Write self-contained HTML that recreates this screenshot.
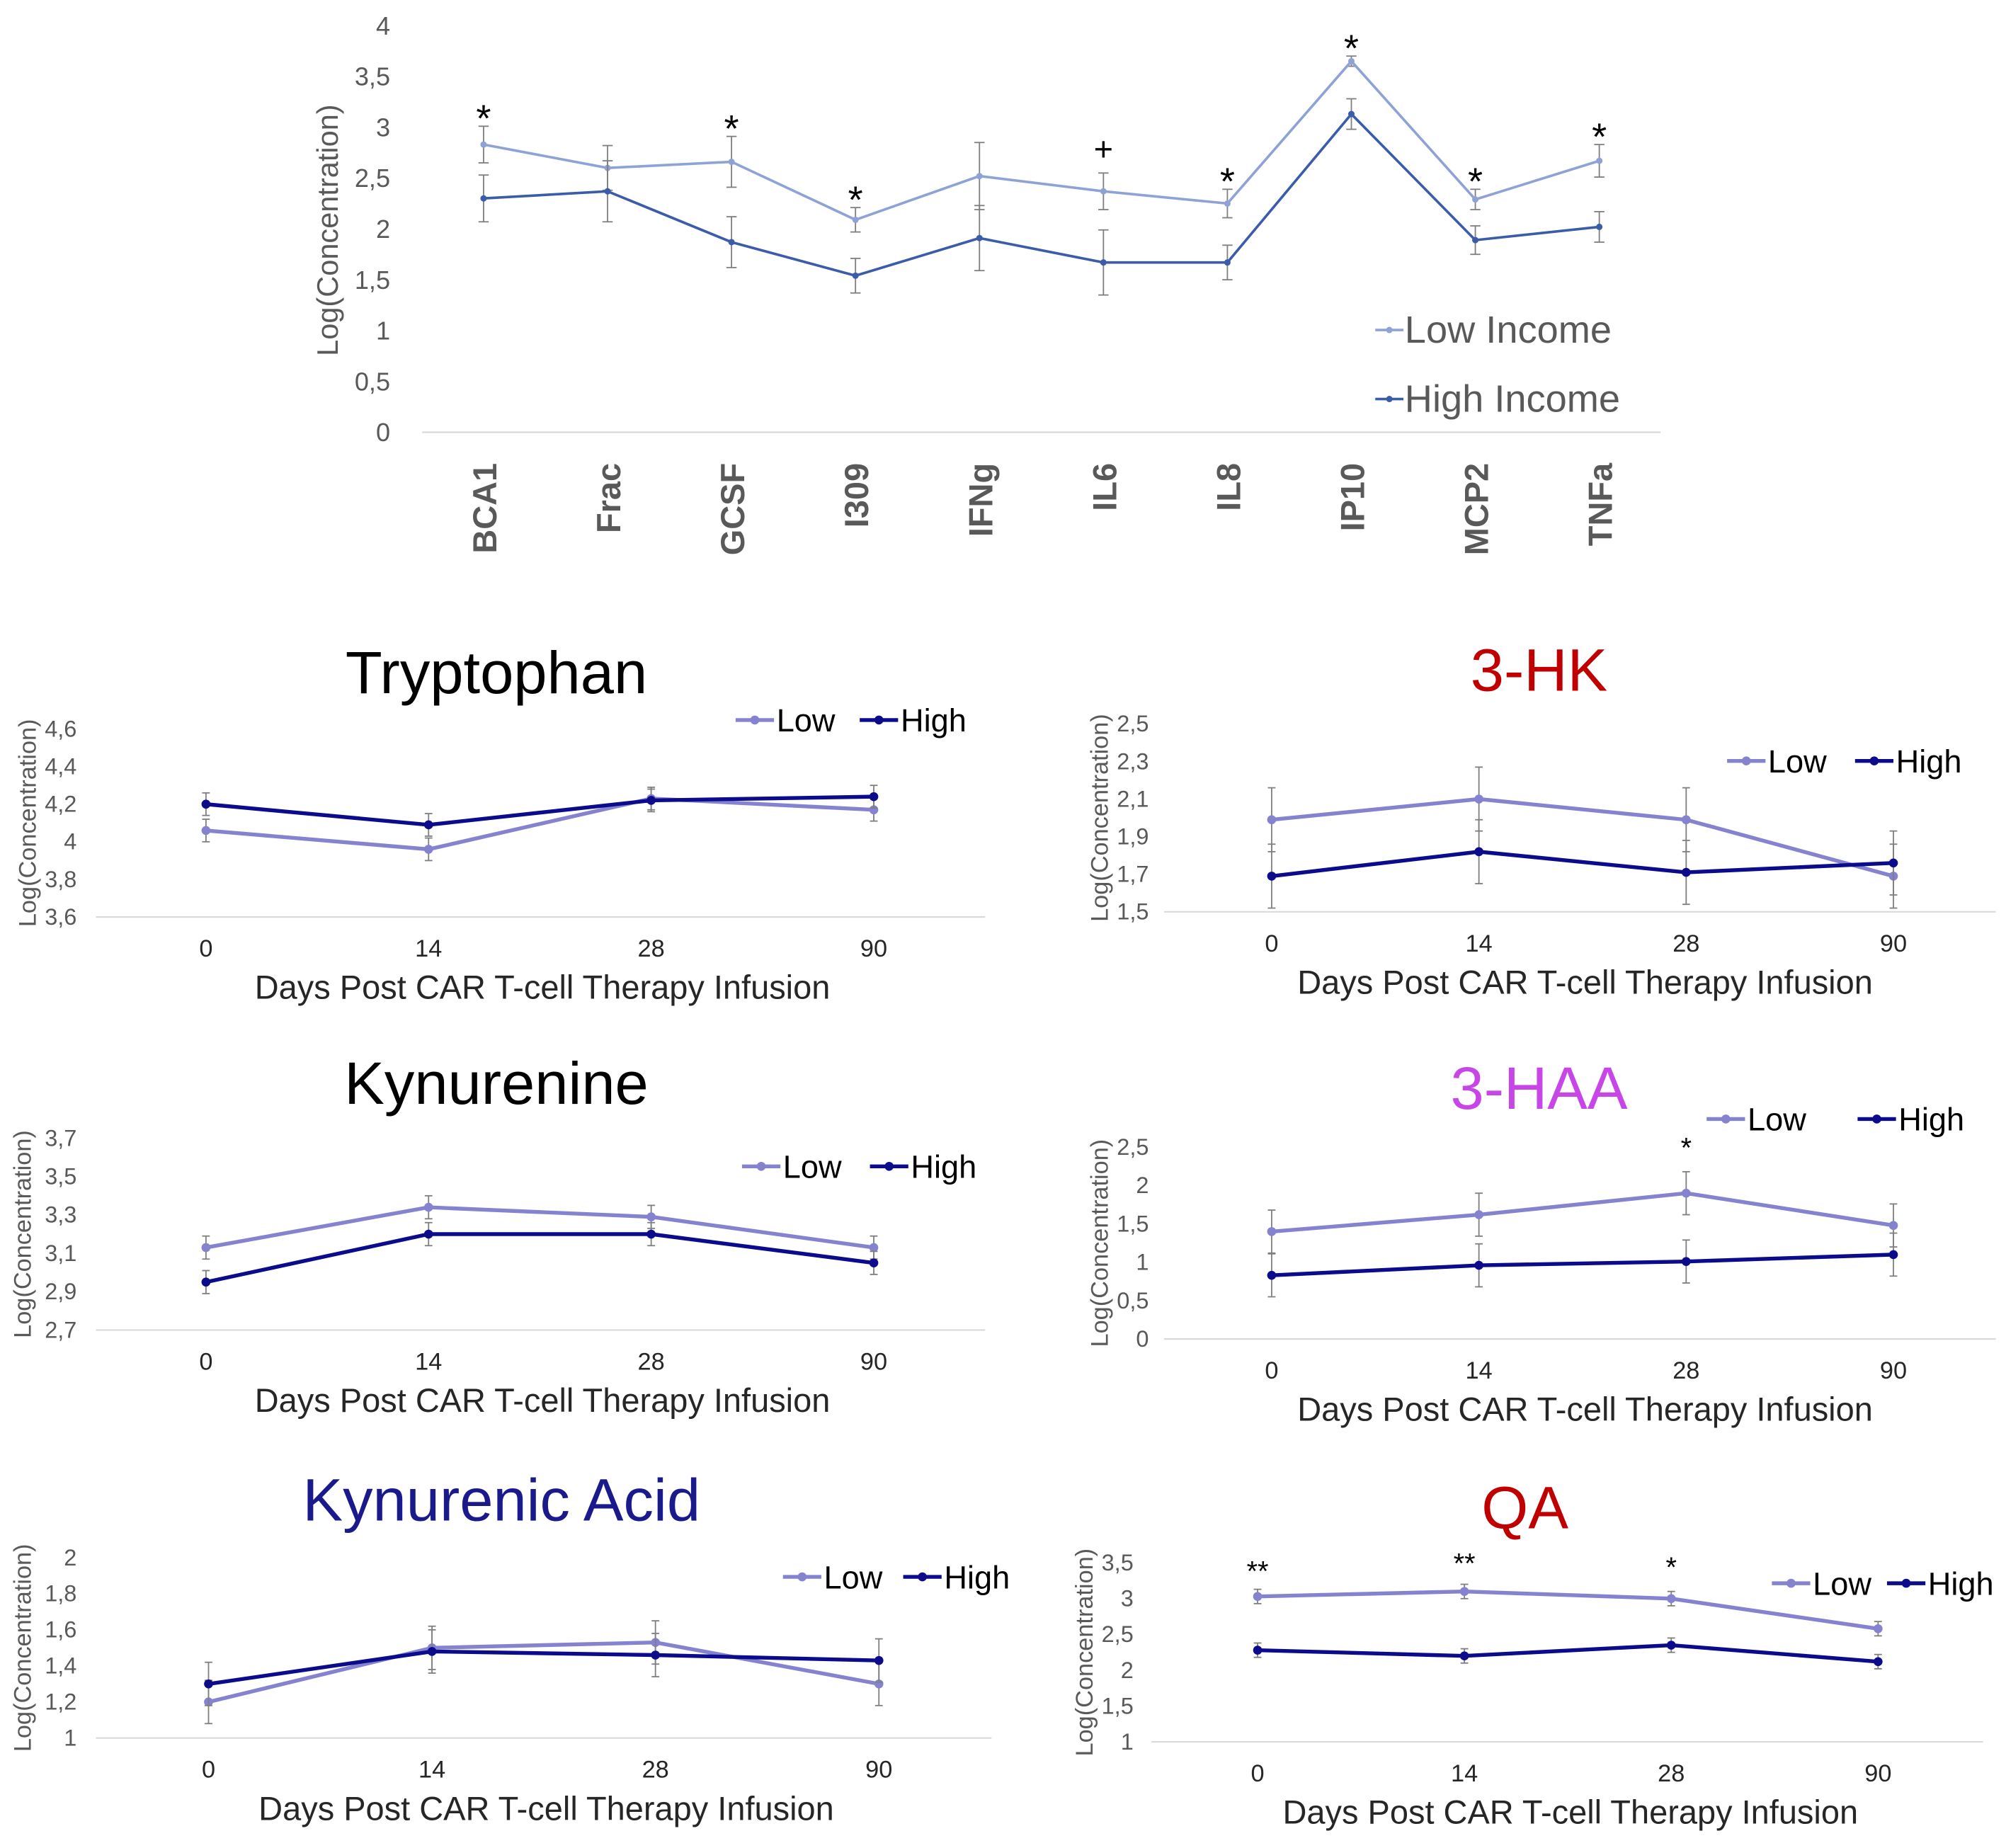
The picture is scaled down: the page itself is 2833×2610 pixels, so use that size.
<!DOCTYPE html>
<html><head><meta charset="utf-8"><style>
html,body{margin:0;padding:0;background:#fff;}
svg{display:block;font-family:"Liberation Sans",Arial,sans-serif;}
</style></head><body>
<svg id="c" width="2833" height="2610" viewBox="0 0 1568 1445" preserveAspectRatio="none" xmlns="http://www.w3.org/2000/svg"></svg>
<script>
// ---- Top chart data ----
const topCategories = ["BCA1","Frac","GCSF","I309","IFNg","IL6","IL8","IP10","MCP2","TNFa"];
const topLow = [2.83,2.6,2.66,2.09,2.52,2.37,2.25,3.65,2.29,2.67];
const topHigh = [2.3,2.37,1.87,1.54,1.91,1.67,1.67,3.13,1.89,2.02];
const topLowErr = [0.18,0.22,0.25,0.12,0.33,0.18,0.14,0.05,0.1,0.16];
const topHighErr = [0.23,0.3,0.25,0.17,0.32,0.32,0.17,0.15,0.14,0.15];
const topMarks = ["*","","*","*","","+","*","*","*","*"];
const topTicks = ["0","0,5","1","1,5","2","2,5","3","3,5","4"];
// ---- Bottom panels data ----
const days = ["0","14","28","90"];
const trpLow = [4.06,3.96,4.23,4.17], trpHigh = [4.2,4.09,4.22,4.24];
const trpTicks = ["3,6","3,8","4","4,2","4,4","4,6"];
const hkLow = [1.99,2.1,1.99,1.69], hkHigh = [1.69,1.82,1.71,1.76];
const hkTicks = ["1,5","1,7","1,9","2,1","2,3","2,5"];
const kynLow = [3.13,3.34,3.29,3.13], kynHigh = [2.95,3.2,3.2,3.05];
const kynTicks = ["2,7","2,9","3,1","3,3","3,5","3,7"];
const haaLow = [1.4,1.62,1.9,1.48], haaHigh = [0.83,0.96,1.01,1.1];
const haaTicks = ["0","0,5","1","1,5","2","2,5"];
const kaLow = [1.2,1.5,1.53,1.3], kaHigh = [1.3,1.48,1.46,1.43];
const kaTicks = ["1","1,2","1,4","1,6","1,8","2"];
const qaLow = [3.03,3.1,3.0,2.58], qaHigh = [2.28,2.2,2.35,2.12];
const qaTicks = ["1","1,5","2","2,5","3","3,5"];

const NS="http://www.w3.org/2000/svg";
const svg=document.getElementById('c');
function el(t,a,p){const e=document.createElementNS(NS,t);for(const k in a)e.setAttribute(k,a[k]);(p||svg).appendChild(e);return e;}
function txt(s,a,p){const e=el('text',a,p);e.textContent=s;return e;}

// ---- Top chart ----
(function(){
  const g=el('g',{});
  
  
  const y=v=>338-v*79.5, x=i=>378+i*96.9;
  el('line',{x1:330,y1:338,x2:1298,y2:338,stroke:'#d9d9d9','stroke-width':1.2},g);
  topTicks.forEach((t,i)=>{const e=txt(t,{x:305,y:y(i*0.5)+7,'text-anchor':'end','font-size':20,fill:'#595959'},g);
    });
  const yt=txt('Log(Concentration)',{transform:'translate(264,180) rotate(-90)','text-anchor':'middle','font-size':23,fill:'#595959'},g);
  
  topCategories.forEach((c,i)=>{const e=txt(c,{transform:`translate(${x(i)+10},362) rotate(-90)`,'text-anchor':'end','font-size':26,'font-weight':'bold',fill:'#595959'},g);
    });
  [[topLow,topLowErr,'#8fa2d6','low-income'],[topHigh,topHighErr,'#3b5ca8','high-income']].forEach(([d,er,col,n])=>{
    d.forEach((v,i)=>{el('line',{x1:x(i),x2:x(i),y1:y(v-er[i]),y2:y(v+er[i]),stroke:'#7f7f7f','stroke-width':1},g);
      [v-er[i],v+er[i]].forEach(w=>el('line',{x1:x(i)-4,x2:x(i)+4,y1:y(w),y2:y(w),stroke:'#7f7f7f','stroke-width':1},g));});
    const p=el('polyline',{points:d.map((v,i)=>x(i)+','+y(v)).join(' '),fill:'none',stroke:col,'stroke-width':2},g);
    
    d.forEach((v,i)=>el('circle',{cx:x(i),cy:y(v),r:2.5,fill:col},g));
  });
  topMarks.forEach((m,i)=>{if(!m)return;const top=Math.max(topLow[i]+topLowErr[i],topHigh[i]+topHighErr[i]);
    const e=txt(m,{x:x(i),y:y(top)-(m=='+'?10:8)+(m=='*'?12:0),'text-anchor':'middle','font-size':m=='+'?26:30,fill:'#000'},g);
    });
  [['Low Income',258,'#8fa2d6'],['High Income',312,'#3b5ca8']].forEach(([t,yy,col])=>{
    el('line',{x1:1075,x2:1097,y1:yy,y2:yy,stroke:col,'stroke-width':2},g);el('circle',{cx:1086,cy:yy,r:2.5,fill:col},g);
    const e=txt(t,{x:1098,y:yy+10,'font-size':30,fill:'#595959'},g);
    });
})();

// ---- Bottom panels ----
const LOWC='#8582cf', HIGHC='#0b0b8c';
function panel(o){
  const g=el('g',{});
  
  
  const n=o.ticks.length-1;
  const y=i=>o.y0-(i-o.min)/(o.max-o.min)*(o.y0-o.y1);
  const x=i=>o.x0+i*(o.x3-o.x0)/3;
  const t=txt(o.title,{x:o.tx,y:o.ty,'text-anchor':'middle','font-size':47,fill:o.tc},g);
  
  el('line',{x1:o.ax0,x2:o.ax1,y1:o.y0,y2:o.y0,stroke:'#d9d9d9','stroke-width':1.2},g);
  o.ticks.forEach((s,i)=>{const e=txt(s,{x:o.tkx,y:y(o.min+i*(o.max-o.min)/n)+6,'text-anchor':'end','font-size':18,fill:'#595959'},g);
    });
  const yt=txt('Log(Concentration)',{transform:`translate(${o.ytx},${(o.y0+o.y1)/2}) rotate(-90)`,'text-anchor':'middle','font-size':19,fill:'#595959'},g);
  
  days.forEach((d,i)=>{const e=txt(d,{x:x(i),y:o.y0+31,'text-anchor':'middle','font-size':19,fill:'#262626'},g);
    });
  const xt=txt('Days Post CAR T-cell Therapy Infusion',{x:(o.x0+o.x3)/2+2,y:o.y0+64,'text-anchor':'middle','font-size':26,fill:'#262626'},g);
  
  const eh=(o.max-o.min)*0.06;
  [[o.low,LOWC,'low'],[o.high,HIGHC,'high']].forEach(([d,col,nm])=>{
    d.forEach((v,i)=>{const e=o.err?o.err:eh;el('line',{x1:x(i),x2:x(i),y1:y(v-e),y2:y(v+e),stroke:'#7f7f7f','stroke-width':1},g);
      [v-e,v+e].forEach(w=>el('line',{x1:x(i)-3,x2:x(i)+3,y1:y(w),y2:y(w),stroke:'#7f7f7f','stroke-width':1},g));});
    const p=el('polyline',{points:d.map((v,i)=>x(i)+','+y(v)).join(' '),fill:'none',stroke:col,'stroke-width':3},g);
    
    d.forEach((v,i)=>el('circle',{cx:x(i),cy:y(v),r:3.5,fill:col},g));
  });
  [['Low',o.lx,LOWC],['High',o.hx,HIGHC]].forEach(([s,lx,col])=>{
    el('line',{x1:lx,x2:lx+30,y1:o.ly,y2:o.ly,stroke:col,'stroke-width':3},g);el('circle',{cx:lx+15,cy:o.ly,r:3.5,fill:col},g);
    const e=txt(s,{x:lx+32,y:o.ly+9,'font-size':25,fill:'#000'},g);
    });
  (o.marks||[]).forEach((m,i)=>{if(!m)return;const e=txt(m,{x:x(i),y:o.my[i],'text-anchor':'middle','font-size':22,fill:'#000'},g);
    });
}
panel({name:'tryptophan-chart',title:'Tryptophan',tc:'#000',tx:388,ty:542,low:trpLow,high:trpHigh,ticks:trpTicks,min:3.6,max:4.6,y0:717,y1:570,x0:161,x3:683,ax0:75,ax1:770,tkx:60,ytx:28,lx:575,hx:672,ly:563});
panel({name:'3hk-chart',title:'3-HK',tc:'#c00000',tx:1203,ty:540,low:hkLow,high:hkHigh,ticks:hkTicks,min:1.5,max:2.5,y0:713,y1:566,x0:994,x3:1480,ax0:910,ax1:1560,tkx:898,ytx:866,lx:1350,hx:1450,ly:595,err:0.17});
panel({name:'kynurenine-chart',title:'Kynurenine',tc:'#000',tx:388,ty:863,low:kynLow,high:kynHigh,ticks:kynTicks,min:2.7,max:3.7,y0:1040,y1:890,x0:161,x3:683,ax0:75,ax1:770,tkx:60,ytx:24,lx:580,hx:680,ly:912});
panel({name:'3haa-chart',title:'3-HAA',tc:'#c846e8',tx:1203,ty:867,low:haaLow,high:haaHigh,ticks:haaTicks,min:0,max:2.5,y0:1047,y1:897,x0:994,x3:1480,ax0:910,ax1:1560,tkx:898,ytx:866,lx:1334,hx:1452,ly:875,err:0.28,marks:['','','*',''],my:[0,0,905,0]});
panel({name:'kynurenic-acid-chart',title:'Kynurenic Acid',tc:'#1a1a8c',tx:392,ty:1189,low:kaLow,high:kaHigh,ticks:kaTicks,min:1,max:2,y0:1359,y1:1218,x0:163,x3:687,ax0:75,ax1:775,tkx:60,ytx:24,lx:612,hx:706,ly:1233,err:0.12});
panel({name:'qa-chart',title:'QA',tc:'#c00000',tx:1192,ty:1195,low:qaLow,high:qaHigh,ticks:qaTicks,min:1,max:3.5,y0:1362,y1:1222,x0:983,x3:1468,ax0:900,ax1:1550,tkx:886,ytx:854,lx:1385,hx:1475,ly:1238,err:0.1,marks:['**','**','*',''],my:[1236,1230,1233,0]});
</script>
</body></html>
